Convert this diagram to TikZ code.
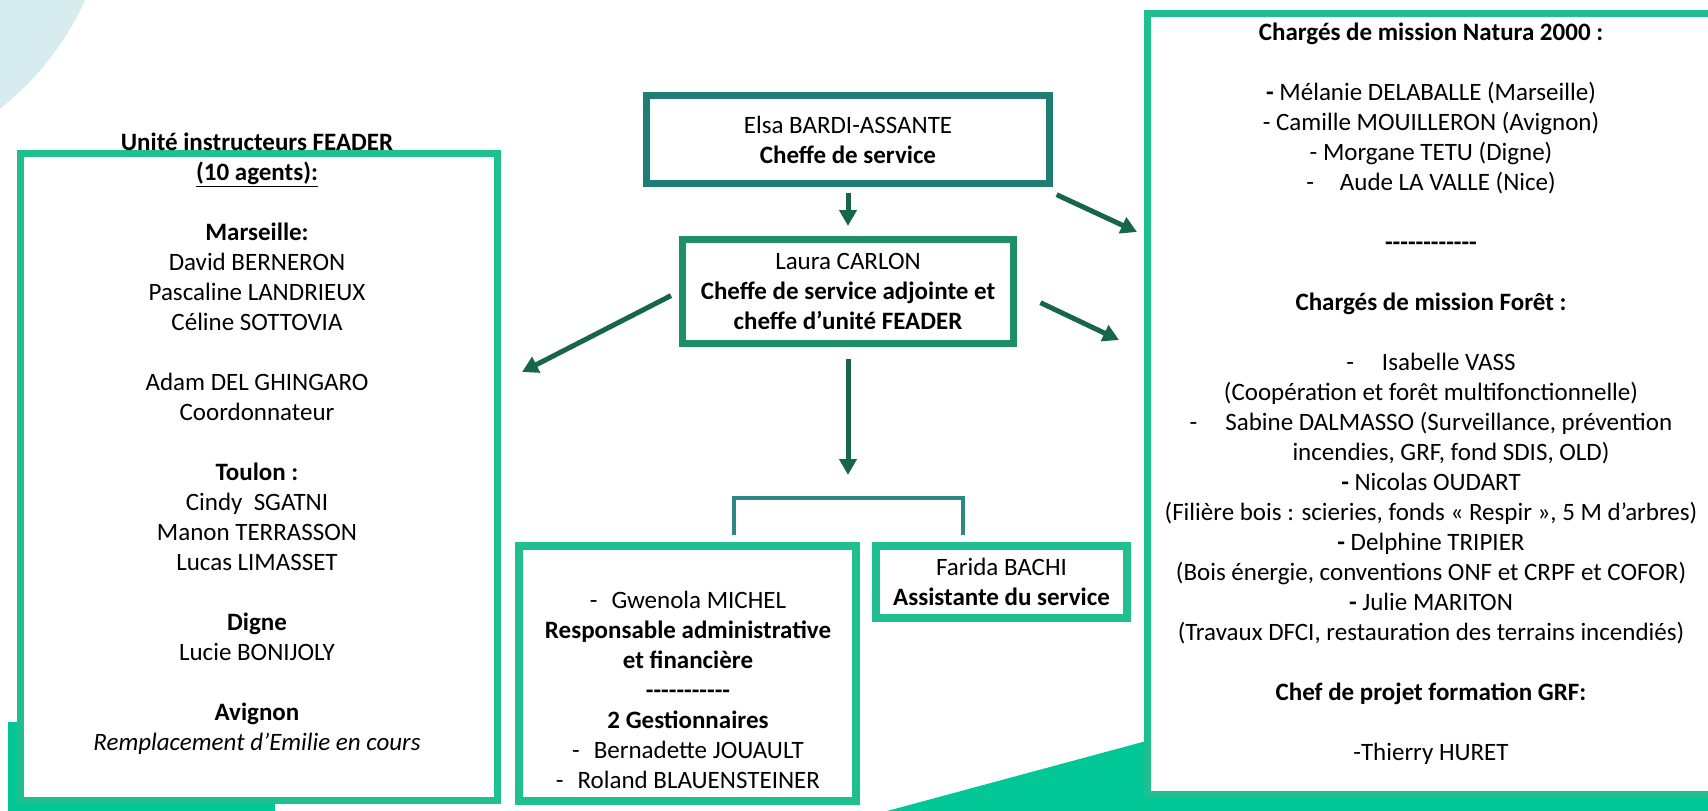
\documentclass[tikz,border=0pt]{standalone}
\usepackage{fontspec}
\setmainfont{Carlito}
\usetikzlibrary{arrows.meta}
\definecolor{lightblue}{HTML}{D6ECEE}
\definecolor{mint}{HTML}{1FBF8F}
\definecolor{decogreen}{HTML}{00C795}
\definecolor{chefteal}{HTML}{1F7D73}
\definecolor{adjgreen}{HTML}{1F9066}
\definecolor{arrowgreen}{HTML}{17654A}
\definecolor{bracketteal}{HTML}{2B8882}
\begin{document}
\begin{tikzpicture}[x=1pt, y=-1pt, >={Triangle[length=16pt,width=17pt]},
	every node/.style={font=\fontsize{25}{30}\selectfont, align=center, inner sep=0pt},
	frame/.style={draw=mint, line width=7pt, fill=white},
	arr/.style={->, draw=arrowgreen, line width=5pt},
	bracket/.style={draw=bracketteal, line width=4pt}]
			\path[use as bounding box] (0,0) rectangle (1708,811);
			\clip (0,0) rectangle (1708,811);
			\fill[lightblue] (-180,-120) circle (291);
			\fill[decogreen] (8,722) rectangle (275,811);
			\fill[decogreen] (887,811) -- (1150,740) -- (1150,811) -- cycle;
			\fill[decogreen] (1150,796) rectangle (1708,811);
			\node[frame, minimum width=477pt, minimum height=647pt] (instr) at (258.5,476.5) {};
			\node[frame, minimum width=613pt, minimum height=781pt] (charges) at (1453.5,403.5) {};
			\node[frame, draw=chefteal, minimum width=403pt, minimum height=88pt] (elsa) at (848,139.5)
				{Elsa BARDI-ASSANTE\\ \textbf{Cheffe de service}};
			\node[frame, draw=adjgreen, minimum width=331pt, minimum height=104pt] (laura) at (848,291.5)
				{Laura CARLON\\ \textbf{Cheffe de service adjointe et}\\ \textbf{cheffe d’unité FEADER}};
			\node[frame, line width=8pt, minimum width=337pt, minimum height=255pt] (gestion) at (687.5,673.5) {};
			\node[frame, line width=8pt, minimum width=251pt, minimum height=72pt] (farida) at (1001.5,582)
				{Farida BACHI\\ \textbf{Assistante du service}};
			\node (instrtxt) at (257,444) {\textbf{Unité instructeurs FEADER}\\
				\textbf{\underline{(10 agents):}}\\[30pt]
				\textbf{Marseille:}\\ David BERNERON\\ Pascaline LANDRIEUX\\ Céline SOTTOVIA\\[30pt]
				Adam DEL GHINGARO\\ Coordonnateur\\[30pt]
				\textbf{Toulon :}\\ Cindy\ \ SGATNI\\ Manon TERRASSON\\ Lucas LIMASSET\\[30pt]
				\textbf{Digne}\\ Lucie BONIJOLY\\[30pt]
				\textbf{Avignon}\\ \textit{Remplacement d’Emilie en cours}};
			\node (gestiontxt) at (688,689.5) {-\hspace*{14pt}Gwenola MICHEL\\
				\textbf{Responsable administrative}\\ \textbf{et financière}\\
				\textbf{-{}-{}-{}-{}-{}-{}-{}-{}-{}-{}-}\\ \textbf{2 Gestionnaires}\\
				-\hspace*{14pt}Bernadette JOUAULT\\ -\hspace*{14pt}Roland BLAUENSTEINER};
			\node (chargestxt) at (1431,394) {\textbf{Chargés de mission Natura 2000 :}\\[30pt]
				\textbf{-} Mélanie DELABALLE (Marseille)\\ - Camille MOUILLERON (Avignon)\\
				- Morgane TETU (Digne)\\ -\hspace*{26pt}Aude LA VALLE (Nice)\\[30pt]
				\textbf{-{}-{}-{}-{}-{}-{}-{}-{}-{}-{}-{}-}\\[30pt]
				\textbf{Chargés de mission Forêt :}\\[30pt]
				-\hspace*{28pt}Isabelle VASS\\ (Coopération et forêt multifonctionnelle)\\
				-\hspace*{28pt}Sabine DALMASSO (Surveillance, prévention\\
				\hspace*{40pt}incendies, GRF, fond SDIS, OLD)\\
				\textbf{-} Nicolas OUDART\\ (Filière bois : scieries, fonds « Respir », 5 M d’arbres)\\
				\textbf{-} Delphine TRIPIER\\ (Bois énergie, conventions ONF et CRPF et COFOR)\\
				\textbf{-} Julie MARITON\\ (Travaux DFCI, restauration des terrains incendiés)\\[30pt]
				\textbf{Chef de projet formation GRF:}\\[30pt]
				-Thierry HURET};
			\coordinate (tipinstr) at (522,372);
			\coordinate (tipnatura) at (1137,232);
			\coordinate (tipforet) at (1119,340);
			\coordinate (split) at (848,475);
			\coordinate (legA) at ([xshift=46pt,yshift=7pt]gestion.north);
			\coordinate (legB) at ([xshift=-39pt,yshift=7pt]farida.north);
			\draw[arr, shorten <=6pt, shorten >=10pt] (elsa) -- (laura);
			\draw[arr, shorten <=4pt] ([yshift=-6pt]elsa.south east) -- (tipnatura);
			\draw[arr, shorten <=9pt] (laura.west) -- (tipinstr);
			\draw[arr, shorten <=26pt] (laura.east) -- (tipforet);
			\draw[arr, shorten <=12pt] (laura.south) -- (split);
			\draw[bracket] (legA) -- ++(0,-37) -| (legB);
\end{tikzpicture}
\end{document}
